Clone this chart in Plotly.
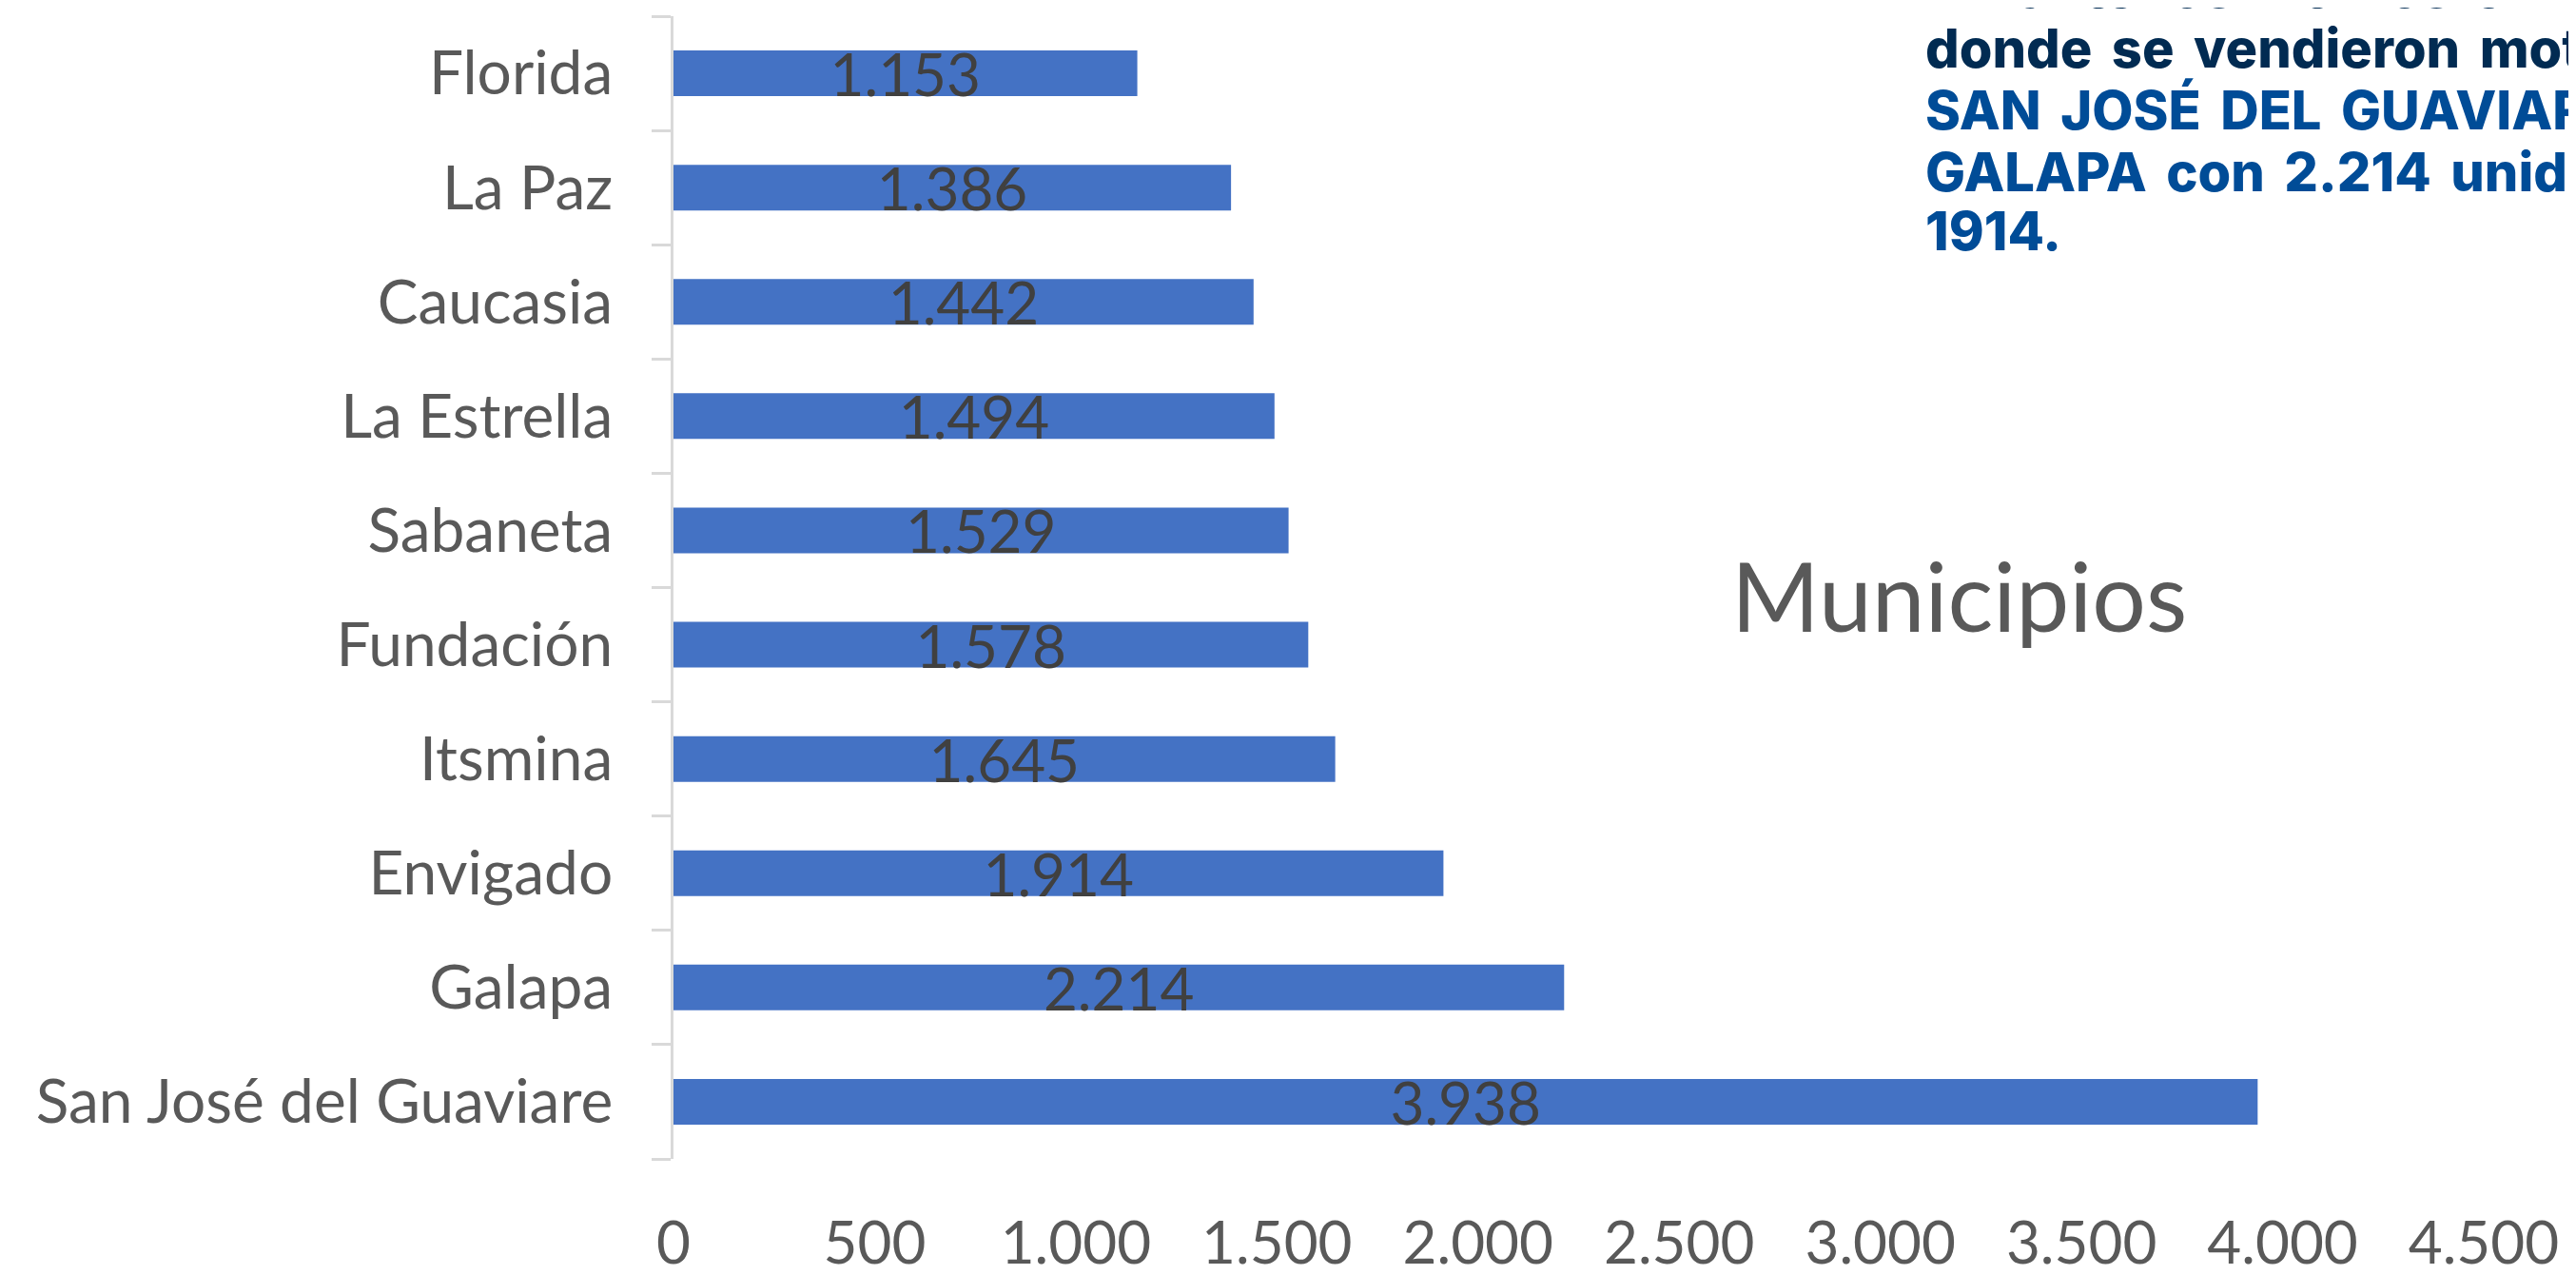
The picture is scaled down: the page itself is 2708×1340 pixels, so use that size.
import plotly.graph_objects as go

# ---- data ----
municipios = ["San José del Guaviare", "Galapa", "Envigado", "Itsmina", "Fundación",
              "Sabaneta", "La Estrella", "Caucasia", "La Paz", "Florida"]
unidades = [3938, 2214, 1914, 1645, 1578, 1529, 1494, 1442, 1386, 1153]
x_ticks = [0, 500, 1000, 1500, 2000, 2500, 3000, 3500, 4000, 4500]
chart_title = "Municipios"

# justified text block (cut by the right edge in the original)
text_lines = [
    "Durante los últimos 6 meses, los municipios",
    "donde se vendieron motos fueron",
    "SAN JOSÉ DEL GUAVIARE con 3.938 unidades,",
    "GALAPA con 2.214 unidades y ENVIGADO con",
    "1914.",
]
line_colors = ["#012B52", "#012B52", "#004C97", "#004C97", "#004C97"]

# ---- geometry (pixels in the screenshot; page body adds an 8px offset) ----
OFF = 8
W, H = 2708 - OFF, 1340 - OFF
L, R, T, B = 708 - OFF, 2611 - OFF, 17 - OFF, 1218 - OFF


def px_x(px):
    return (px - OFF - L) / (R - L)


def px_y(py):
    return (B - (py - OFF)) / (B - T)


CAL = "Lato, 'Open Sans', sans-serif"

fig = go.Figure(
    go.Bar(
        x=unidades,
        y=municipios,
        orientation="h",
        width=0.4,
        marker=dict(color="#4472C4", line=dict(width=0)),
        texttemplate="%{x:,d}",
        textposition="inside",
        insidetextanchor="middle",
        textangle=0,
        constraintext="none",
        insidetextfont=dict(family=CAL, size=62, color="#404040"),
        cliponaxis=False,
        hoverinfo="skip",
    )
)

annotations = [
    dict(
        text=chart_title, xref="paper", yref="paper",
        x=px_x(1818), y=px_y(625), xanchor="left", yanchor="middle",
        showarrow=False, font=dict(family=CAL, size=100, color="#595959"),
    )
]

line_centers = [-12, 51, 116, 181, 243]
gap = "\u00a0\u2009"   # widened word spacing (justified look)
for txt, col, cy in zip(text_lines, line_colors, line_centers):
    annotations.append(
        dict(
            text=txt.replace(" ", gap), xref="paper", yref="paper",
            x=px_x(2022), y=px_y(cy), xanchor="left", yanchor="middle",
            showarrow=False,
            font=dict(family="Inter, sans-serif", size=56, color=col, weight=800),
        )
    )

fig.update_layout(
    width=W, height=H,
    margin=dict(l=L, r=W - R, t=T, b=H - B, pad=0, autoexpand=False),
    paper_bgcolor="white", plot_bgcolor="white",
    separators=",.",
    showlegend=False,
    bargap=0.6,
    annotations=annotations,
    xaxis=dict(
        range=[0, 4500], tickvals=x_ticks, tickformat=",d",
        showgrid=False, zeroline=False, showline=False, ticks="",
        tickfont=dict(family=CAL, size=62, color="#595959"),
        ticklabelstandoff=47, automargin=False,
    ),
    yaxis=dict(
        type="category", categoryorder="array", categoryarray=municipios,
        showgrid=False, zeroline=False,
        showline=True, linecolor="#D9D9D9", linewidth=3,
        ticks="outside", ticklen=20, tickwidth=3, tickcolor="#D9D9D9",
        tickson="boundaries",
        tickfont=dict(family=CAL, size=64, color="#595959"),
        ticklabelstandoff=48, automargin=False,
    ),
)

fig.write_html("out.html")
